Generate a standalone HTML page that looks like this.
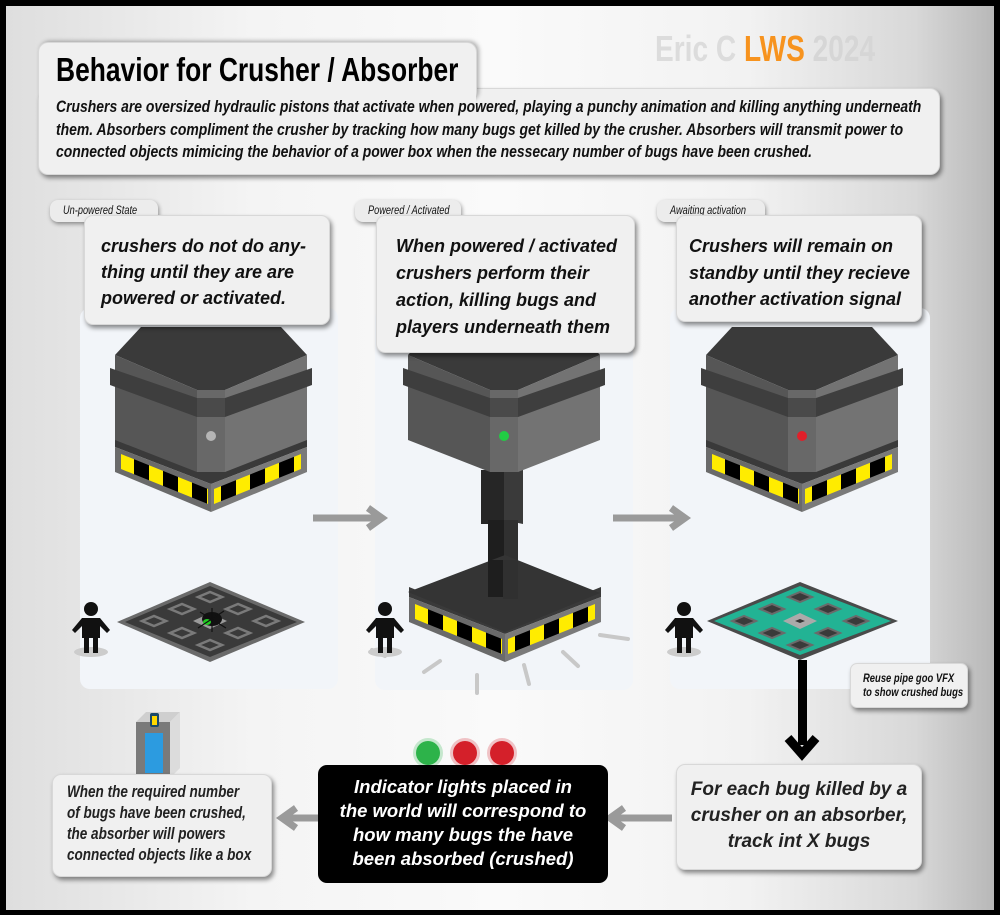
<!DOCTYPE html>
<html><head><meta charset="utf-8"><style>
*{margin:0;padding:0;box-sizing:border-box}
body{width:1000px;height:915px;background:#000;position:relative;overflow:hidden;font-family:"Liberation Sans",sans-serif}
#bg{position:absolute;left:6px;top:6px;width:988px;height:904px;background:linear-gradient(to right,#dedede 0%,#f4f4f4 25%,#fafafa 50%,#f2f2f2 75%,#d8d8d8 92%,#b8b8b8 100%)}
.box{position:absolute;background:#f0f0f0;border-radius:9px;box-shadow:2px 3px 5px rgba(0,0,0,.45);border:1px solid #d8d8d8}
.c{transform-origin:0 0;white-space:nowrap}
.t{position:absolute;font-weight:bold;font-style:italic;color:#111}
.tab{position:absolute;background:#ececec;border-radius:8px;box-shadow:1px 2px 4px rgba(0,0,0,.4)}
.tab span{position:absolute;left:13px;top:5px;font-style:italic;font-size:11.5px;color:#111;transform:scaleX(.8);transform-origin:0 0;white-space:nowrap}
svg{position:absolute;left:0;top:0}
</style></head><body>
<div id="bg"></div>
<svg width="1000" height="915" viewBox="0 0 1000 915">
<defs>
<pattern id="hz" x="-4" width="29" height="300" patternUnits="userSpaceOnUse">
<rect width="29" height="300" fill="#000"/><rect width="14" height="300" fill="#ffec00"/></pattern>
<g id="body">
<polygon points="-96,355 -70,327 70,327 96,355 14,390 -14,390" fill="#3a3a3a"/>
<polygon points="-96,355 -14,390 -14,472 -96,440" fill="#565656"/>
<polygon points="-14,390 14,390 14,472 -14,472" fill="#686868"/>
<polygon points="14,390 96,355 96,440 14,472" fill="#737373"/>
<polygon points="-101,368 -14,398 -14,417 -101,385" fill="#3e3e3e"/>
<polygon points="-14,398 14,398 14,417 -14,417" fill="#4a4a4a"/>
<polygon points="14,398 101,368 101,385 14,417" fill="#3e3e3e"/>
</g>
<g id="base">
<polygon points="-96,437 -14,470 14,470 96,437 96,447 0,484 -96,447" fill="#3a3a3a"/>
<polygon points="-96,447 0,484 0,512 -96,472" fill="#6a6a6a"/>
<polygon points="0,484 96,447 96,472 0,512" fill="#7a7a7a"/>
<polygon points="-90,454 -3,489 -3,504 -90,469" fill="url(#hz)"/>
<polygon points="3,489 90,454 90,469 3,504" fill="url(#hz)"/>
</g>
<g id="person">
<ellipse cx="0" cy="49" rx="17" ry="5" fill="#ccc"/>
<circle cx="0" cy="6" r="7" fill="#111"/>
<path d="M-9,15 h18 l10,12 -3,3 -7,-7 v12 h-18 v-12 l-7,7 -3,-3z" fill="#111"/>
<rect x="-7" y="34" width="5" height="16" fill="#111"/><rect x="2" y="34" width="5" height="16" fill="#111"/>
</g>
</defs>
<rect x="80" y="308" width="258" height="381" rx="10" fill="#f2f5f9"/>
<rect x="375" y="308" width="258" height="382" rx="10" fill="#f2f5f9"/>
<rect x="670" y="308" width="260" height="381" rx="10" fill="#f2f5f9"/>
<g transform="translate(211,0)"><use href="#base"/><use href="#body"/><circle cx="0" cy="436" r="5" fill="#b5b5b5"/></g>
<g transform="translate(802,0)"><use href="#base"/><use href="#body"/><circle cx="0" cy="436" r="5" fill="#e0202a"/></g>
<g transform="translate(504,0)">
<polygon points="-23,470 0,470 0,524 -23,524" fill="#262626"/><polygon points="0,470 19,470 19,524 0,520" fill="#3a3a3a"/>
<polygon points="-16,520 0,520 0,597 -16,597" fill="#1e1e1e"/><polygon points="0,520 14,520 14,597 0,600" fill="#303030"/>
<use href="#body"/><circle cx="0" cy="436" r="5" fill="#22cc44"/>
</g>
<g transform="translate(505,150)"><use href="#base"/></g>
<polygon points="408,592 505,555 600,593 505,632" fill="#343434"/>
<rect x="488" y="560" width="30" height="37" fill="#1e1e1e"/><rect x="503" y="560" width="15" height="39" fill="#303030"/>
<g stroke="#c8c8c8" stroke-width="4" stroke-linecap="round">
<line x1="424" y1="672" x2="440" y2="661"/><line x1="477" y1="675" x2="477" y2="693"/><line x1="524" y1="665" x2="529" y2="684"/><line x1="563" y1="652" x2="578" y2="666"/><line x1="600" y1="635" x2="628" y2="639"/><line x1="372" y1="650" x2="385" y2="656"/></g>
<use href="#person" transform="translate(91,603)"/>
<use href="#person" transform="translate(385,603)"/>
<use href="#person" transform="translate(684,603)"/>
<polygon points="117,622 210,582 305,622 210,662" fill="#6a6a6a"/>
<polygon points="125,622 210,586 297,622 210,657" fill="#3a3a3a"/>
<g fill="none" stroke="#7a7a7a" stroke-width="2.5">
<polygon points="198,597 210,592 222,597 210,602"/><polygon points="170,609 182,604 194,609 182,614"/><polygon points="226,609 238,604 250,609 238,614"/>
<polygon points="142,621 154,616 166,621 154,626"/><polygon points="254,621 266,616 278,621 266,626"/>
<polygon points="170,633 182,628 194,633 182,638"/><polygon points="226,633 238,628 250,633 238,638"/><polygon points="198,645 210,640 222,645 210,650"/></g>
<polygon points="193,621 210,613 227,621 210,629" fill="#9a9a9a"/>
<ellipse cx="212" cy="619" rx="10" ry="7" fill="#111"/><ellipse cx="207" cy="622" rx="4" ry="3" fill="#2c2"/>
<g stroke="#111" stroke-width="1.2"><line x1="200" y1="612" x2="226" y2="628"/><line x1="224" y1="611" x2="198" y2="628"/><line x1="212" y1="608" x2="212" y2="632"/></g>
<polygon points="707,621 800,582 898,621 800,660" fill="#4a4a4a"/>
<polygon points="714,621 800,586 891,621 800,655" fill="#22b394"/>
<g fill="#3a3a3a" stroke="#6a6a6a" stroke-width="2">
<polygon points="788,597 800,592 812,597 800,602"/><polygon points="760,609 772,604 784,609 772,614"/><polygon points="816,609 828,604 840,609 828,614"/>
<polygon points="732,621 744,616 756,621 744,626"/><polygon points="844,621 856,616 868,621 856,626"/>
<polygon points="760,633 772,628 784,633 772,638"/><polygon points="816,633 828,628 840,633 828,638"/><polygon points="788,645 800,640 812,645 800,650"/></g>
<polygon points="783,621 800,613 817,621 800,629" fill="#aaa"/><polygon points="795,621 800,619 805,621 800,623" fill="#333"/>
<rect x="798" y="660" width="9" height="85" fill="#000"/>
<polyline points="788,738 802,754 816,738" fill="none" stroke="#000" stroke-width="9"/>
<g stroke="#9a9a9a" stroke-width="7" fill="none">
<line x1="313" y1="518" x2="380" y2="518"/><polyline points="368,508 382,518 368,528"/>
<line x1="613" y1="518" x2="683" y2="518"/><polyline points="671,508 685,518 671,528"/>
<line x1="672" y1="818" x2="612" y2="818"/><polyline points="624,808 610,818 624,828"/>
<line x1="318" y1="818" x2="284" y2="818"/><polyline points="296,808 282,818 296,828"/>
</g>
<polygon points="136,722 146,712 180,712 170,722" fill="#cfcfcf"/>
<rect x="136" y="722" width="34" height="56" fill="#7a7a7a"/>
<polygon points="170,722 180,712 180,768 170,778" fill="#dcdcdc"/>
<rect x="145" y="733" width="18" height="40" fill="#2c9be0"/>
<rect x="150" y="713" width="9" height="14" rx="2" fill="#1a4a6a"/><rect x="152" y="716" width="5" height="9" fill="#ffd800"/>
<circle cx="428" cy="753" r="15" fill="#2db34a" opacity=".25"/><circle cx="428" cy="753" r="12" fill="#2db34a"/>
<circle cx="465" cy="753" r="15" fill="#d4202a" opacity=".25"/><circle cx="465" cy="753" r="12" fill="#d4202a"/>
<circle cx="502" cy="753" r="15" fill="#d4202a" opacity=".25"/><circle cx="502" cy="753" r="12" fill="#d4202a"/>
</svg>

<div class="c" style="position:absolute;left:655px;top:28px;font-size:36px;font-weight:bold;color:#dcdcdc;transform:scaleX(.78)">Eric C <span style="color:#f7931e">LWS</span> <span style="color:#d6d6d6">2024</span></div>

<div class="box" style="left:38px;top:88px;width:902px;height:87px;border-radius:10px"></div>
<div class="box" style="left:38px;top:42px;width:439px;height:60px;border-radius:10px;box-shadow:2px -1px 4px rgba(0,0,0,.3);border-bottom:none"></div>
<div style="position:absolute;left:39px;top:85px;width:437px;height:20px;background:#f0f0f0"></div>
<div class="c" style="position:absolute;left:56px;top:51px;font-size:33px;font-weight:bold;color:#000;transform:scaleX(.8)">Behavior for Crusher / Absorber</div>
<div class="t c" style="left:56px;top:96px;font-size:17px;line-height:22.5px;transform:scaleX(.82)">Crushers are oversized hydraulic pistons that activate when powered, playing a punchy animation and killing anything underneath<br>them. Absorbers compliment the crusher by tracking how many bugs get killed by the crusher. Absorbers will transmit power to<br>connected objects mimicing the behavior of a power box when the nessecary number of bugs have been crushed.</div>

<div class="tab" style="left:50px;top:200px;width:108px;height:22px"><span>Un-powered State</span></div>
<div class="tab" style="left:355px;top:200px;width:106px;height:22px"><span>Powered / Activated</span></div>
<div class="tab" style="left:657px;top:200px;width:108px;height:22px"><span>Awaiting activation</span></div>

<div class="box" style="left:84px;top:215px;width:246px;height:110px"></div>
<div class="t" style="left:101px;top:233px;font-size:18px;line-height:26px;white-space:nowrap">crushers do not do any-<br>thing until they are are<br>powered or activated.</div>
<div class="box" style="left:376px;top:215px;width:259px;height:138px"></div>
<div class="t" style="left:396px;top:233px;font-size:18px;line-height:27px;white-space:nowrap">When powered / activated<br>crushers perform their<br>action, killing bugs and<br>players underneath them</div>
<div class="box" style="left:676px;top:215px;width:246px;height:107px"></div>
<div class="t" style="left:689px;top:233px;font-size:18px;line-height:26.5px;white-space:nowrap">Crushers will remain on<br>standby until they recieve<br>another activation signal</div>

<div class="box" style="left:850px;top:663px;width:118px;height:45px;border-radius:7px"></div>
<div class="t c" style="left:863px;top:672px;font-size:11.5px;line-height:14px;transform:scaleX(.82)">Reuse pipe goo VFX<br>to show crushed bugs</div>

<div class="box" style="left:676px;top:764px;width:246px;height:106px"></div>
<div class="t" style="left:676px;top:777px;width:246px;text-align:center;font-size:19px;line-height:26px;color:#222">For each bug killed by a<br>crusher on an absorber,<br>track int X bugs</div>
<div style="position:absolute;left:318px;top:765px;width:290px;height:118px;background:#000;border-radius:9px"></div>
<div class="t" style="left:318px;top:775px;width:290px;text-align:center;font-size:18.5px;line-height:24px;color:#fff">Indicator lights placed in<br>the world will correspond to<br>how many bugs the have<br>been absorbed (crushed)</div>
<div class="box" style="left:52px;top:774px;width:220px;height:103px"></div>
<div class="t c" style="left:67px;top:782px;font-size:16.5px;line-height:21px;color:#222;transform:scaleX(.82)">When the required number<br>of bugs have been crushed,<br>the absorber will powers<br>connected objects like a box</div>
</body></html>
